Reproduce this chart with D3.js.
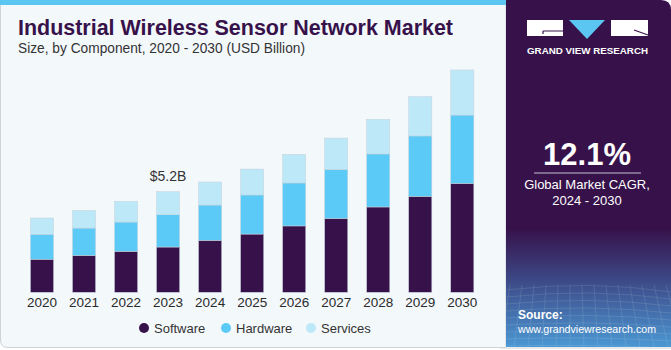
<!DOCTYPE html>
<html lang="en">
<head>
<meta charset="utf-8" />
<title>Industrial Wireless Sensor Network Market</title>
<script src="https://d3js.org/d3.v7.min.js"></script>
<style>
  body { margin: 0; background: #ffffff; }
  svg { display: block; font-family: "Liberation Sans", Arial, sans-serif; }
</style>
</head>
<body>
<div id="chart"></div>
<script>
// values, USD billion
var years = ["2020", "2021", "2022", "2023", "2024", "2025", "2026", "2027", "2028", "2029", "2030"];
var software = [1.71, 1.91, 2.12, 2.34, 2.69, 3.01, 3.43, 3.82, 4.41, 4.96, 5.63];
var hardware = [1.29, 1.41, 1.51, 1.67, 1.82, 2.02, 2.22, 2.53, 2.74, 3.12, 3.53];
var services = [0.84, 0.91, 1.07, 1.19, 1.19, 1.34, 1.48, 1.62, 1.79, 2.03, 2.33];
var seriesNames = ["Software", "Hardware", "Services"];
var seriesColors = ["#37114a", "#5ccaf6", "#bde8f8"];

var width = 671;
var height = 350;

var svg = d3.select("#chart")
  .append("svg")
  .attr("width", width)
  .attr("height", height);

var defs = svg.append("defs");
var grad = defs.append("linearGradient")
  .attr("id", "panelGrad")
  .attr("x1", 0).attr("y1", 0).attr("x2", 0).attr("y2", 1);
grad.append("stop").attr("offset", "0%").attr("stop-color", "#37124a");
grad.append("stop").attr("offset", "66%").attr("stop-color", "#37124a");
grad.append("stop").attr("offset", "80%").attr("stop-color", "#3c4684");
grad.append("stop").attr("offset", "100%").attr("stop-color", "#4b98d3");

// left panel
svg.append("path")
  .attr("d", "M0.5,0 H506 V347.5 H8 Q0.5,347.5 0.5,340 Z")
  .attr("fill", "#f3f8fb")
  .attr("stroke", "#cfd3d6");

// top accent
svg.append("rect")
  .attr("x", 0).attr("y", 0)
  .attr("width", 506).attr("height", 5)
  .attr("fill", "#5cc6f2");

// right panel
svg.append("path")
  .attr("d", "M506,0 H661 Q671,0 671,10 V347 H506 Z")
  .attr("fill", "url(#panelGrad)");
svg.append("line")
  .attr("x1", 500).attr("x2", 671)
  .attr("y1", 348).attr("y2", 348)
  .attr("stroke", "#cfd3d6");

// faint grid on the lower part of the right panel
var gridG = svg.append("g").attr("opacity", 0.18).attr("stroke", "#ffffff").attr("stroke-width", 0.6);
d3.range(0, 9).forEach(function(i) {
  gridG.append("path")
    .attr("d", "M506," + (290 + i * 7) + " Q590," + (280 + i * 8) + " 671," + (292 + i * 7))
    .attr("fill", "none");
});
d3.range(0, 14).forEach(function(i) {
  gridG.append("line")
    .attr("x1", 510 + i * 12).attr("y1", 285)
    .attr("x2", 500 + i * 14).attr("y2", 347);
});

// logo
var logo = svg.append("g");
logo.append("rect").attr("x", 527).attr("y", 20).attr("width", 36).attr("height", 16).attr("fill", "#ffffff");
logo.append("path").attr("d", "M543,31 H563 M543,31 V34").attr("stroke", "#37124a").attr("stroke-width", 1.2).attr("fill", "none");
logo.append("path").attr("d", "M569,20 H605 L587,39 Z").attr("fill", "#5cc6f2");
logo.append("rect").attr("x", 611).attr("y", 20).attr("width", 37).attr("height", 16).attr("fill", "#ffffff");
logo.append("path").attr("d", "M634,30 L648,35").attr("stroke", "#37124a").attr("stroke-width", 1.2);
logo.append("text")
  .attr("x", 527).attr("y", 54)
  .attr("fill", "#ffffff")
  .attr("font-size", 9.5)
  .attr("font-weight", "bold")
  .attr("textLength", 121)
  .attr("lengthAdjust", "spacingAndGlyphs")
  .text("GRAND VIEW RESEARCH");

// CAGR block
svg.append("text")
  .attr("x", 587).attr("y", 165)
  .attr("text-anchor", "middle")
  .attr("fill", "#ffffff")
  .attr("font-size", 31)
  .attr("font-weight", "bold")
  .text("12.1%");
svg.append("line")
  .attr("x1", 534).attr("x2", 641)
  .attr("y1", 173).attr("y2", 173)
  .attr("stroke", "#c9bfd0").attr("stroke-width", 1);
svg.append("text")
  .attr("x", 587).attr("y", 189)
  .attr("text-anchor", "middle")
  .attr("fill", "#ffffff")
  .attr("font-size", 13)
  .text("Global Market CAGR,");
svg.append("text")
  .attr("x", 587).attr("y", 205)
  .attr("text-anchor", "middle")
  .attr("fill", "#ffffff")
  .attr("font-size", 13)
  .text("2024 - 2030");

// source
svg.append("text")
  .attr("x", 518).attr("y", 319)
  .attr("fill", "#ffffff")
  .attr("font-size", 12)
  .attr("font-weight", "bold")
  .text("Source:");
svg.append("text")
  .attr("x", 518).attr("y", 333)
  .attr("fill", "#ffffff")
  .attr("font-size", 11)
  .attr("textLength", 138)
  .attr("lengthAdjust", "spacingAndGlyphs")
  .text("www.grandviewresearch.com");

// titles
svg.append("text")
  .attr("x", 18).attr("y", 35)
  .attr("fill", "#37124a")
  .attr("font-size", 22)
  .attr("font-weight", "bold")
  .attr("textLength", 435)
  .attr("lengthAdjust", "spacingAndGlyphs")
  .text("Industrial Wireless Sensor Network Market");
svg.append("text")
  .attr("x", 18).attr("y", 53)
  .attr("fill", "#333333")
  .attr("font-size", 14)
  .attr("textLength", 287)
  .attr("lengthAdjust", "spacingAndGlyphs")
  .text("Size, by Component, 2020 - 2030 (USD Billion)");

// stacked bars
var table = years.map(function(y, i) {
  return { year: y, Software: software[i], Hardware: hardware[i], Services: services[i] };
});
var stack = d3.stack().keys(seriesNames);
var layers = stack(table);

var xScale = d3.scaleBand()
  .domain(years)
  .range([21, 483.3])
  .paddingInner(0.45)
  .paddingOuter(0.225);

var yScale = d3.scaleLinear()
  .domain([0, 12])
  .range([292.3, 292.3 - 12 * 19.35]);

var color = d3.scaleOrdinal().domain(seriesNames).range(seriesColors);

svg.append("g")
  .selectAll("g")
  .data(layers)
  .join("g")
  .attr("fill", function(d) { return color(d.key); })
  .selectAll("rect")
  .data(function(d) { return d; })
  .join("rect")
  .attr("x", function(d) { return xScale(d.data.year); })
  .attr("y", function(d) { return yScale(d[1]); })
  .attr("width", xScale.bandwidth())
  .attr("height", function(d) { return yScale(d[0]) - yScale(d[1]); })
  .attr("stroke", "#c6d2dc")
  .attr("stroke-width", 0.5);

// x axis (labels only)
var xAxis = d3.axisBottom(xScale).tickSize(0).tickPadding(5);
var xg = svg.append("g")
  .attr("transform", "translate(0," + yScale(0) + ")")
  .call(xAxis);
xg.select(".domain").remove();
xg.selectAll("text")
  .attr("font-size", 13.5)
  .attr("fill", "#2a2a2a")
  .attr("font-family", "Liberation Sans, Arial, sans-serif");

// value label on 2023
var totals = table.map(function(d) { return d.Software + d.Hardware + d.Services; });
svg.append("text")
  .attr("x", xScale("2023") + xScale.bandwidth() / 2)
  .attr("y", yScale(totals[3]) - 11)
  .attr("text-anchor", "middle")
  .attr("fill", "#333333")
  .attr("font-size", 14)
  .text("$5.2B");

// legend
var legendX = [144, 226, 311];
var legend = svg.append("g")
  .selectAll("g")
  .data(seriesNames)
  .join("g")
  .attr("transform", function(d, i) { return "translate(" + legendX[i] + ",328)"; });
legend.append("circle")
  .attr("r", 5)
  .attr("fill", function(d) { return color(d); });
legend.append("text")
  .attr("x", 10).attr("y", 4.5)
  .attr("font-size", 13)
  .attr("fill", "#333333")
  .text(function(d) { return d; });
</script>
</body>
</html>
